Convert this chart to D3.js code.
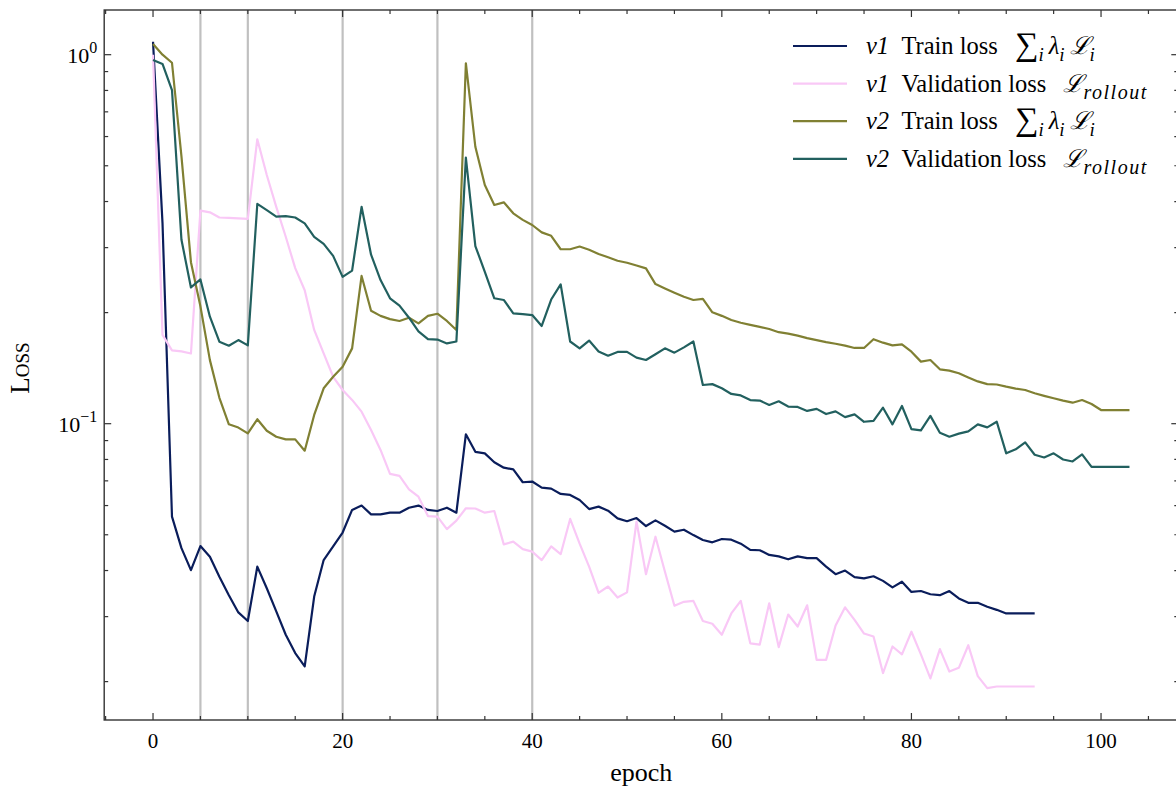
<!DOCTYPE html>
<html>
<head>
<meta charset="utf-8">
<script src="https://cdn.jsdelivr.net/npm/d3@7"></script>
<style>
  html, body { margin: 0; padding: 0; background: #fff; }
  svg { display: block; }
  text { font-family: "Liberation Serif", "DejaVu Serif", serif; fill: #000; }
</style>
</head>
<body>
<svg id="chart" width="1176" height="786"></svg>
<script>
// ---------------- data ----------------
const v1Train = [1.084, 0.35, 0.056, 0.046, 0.0401, 0.0466, 0.0436, 0.0385, 0.0343, 0.0308,
  0.0292, 0.0410, 0.0358, 0.0310, 0.0268, 0.0239, 0.0220, 0.0340, 0.0427, 0.0465,
  0.0507, 0.0584, 0.0600, 0.0568, 0.0568, 0.0574, 0.0574, 0.0592, 0.0600, 0.0584,
  0.0580, 0.0592, 0.0574, 0.0936, 0.0839, 0.0831, 0.0786, 0.0760, 0.0752, 0.0694,
  0.0697, 0.0671, 0.0667, 0.0645, 0.0641, 0.0621, 0.0587, 0.0596, 0.0581, 0.0554,
  0.0544, 0.0555, 0.0528, 0.0547, 0.0529, 0.0510, 0.0516, 0.0499, 0.0484, 0.0477,
  0.0487, 0.0485, 0.0473, 0.0455, 0.0454, 0.0441, 0.0437, 0.0429, 0.0437, 0.0432,
  0.0432, 0.0410, 0.0391, 0.0400, 0.0384, 0.0381, 0.0386, 0.0375, 0.0360, 0.0373,
  0.0350, 0.0352, 0.0345, 0.0343, 0.0352, 0.0336, 0.0327, 0.0327, 0.0319, 0.0313,
  0.0306, 0.0306, 0.0306, 0.0306];

const v1Val = [1.0, 0.174, 0.158, 0.157, 0.155, 0.378, 0.374, 0.362, 0.361, 0.360,
  0.359, 0.590, 0.472, 0.387, 0.321, 0.264, 0.230, 0.1795, 0.155, 0.134,
  0.1234, 0.116, 0.1078, 0.0961, 0.0849, 0.0731, 0.0722, 0.0664, 0.0634, 0.0562,
  0.0560, 0.0518, 0.0546, 0.0590, 0.0589, 0.0574, 0.0580, 0.0471, 0.0479, 0.0457,
  0.0450, 0.0427, 0.0465, 0.0443, 0.0552, 0.0473, 0.0410, 0.0348, 0.0362, 0.0338,
  0.0349, 0.0543, 0.0391, 0.0494, 0.0397, 0.0321, 0.0329, 0.0331, 0.0292, 0.0287,
  0.0268, 0.0306, 0.0331, 0.0254, 0.0252, 0.0326, 0.0248, 0.0304, 0.0282, 0.0322,
  0.0229, 0.0229, 0.0284, 0.0318, 0.0294, 0.0270, 0.0265, 0.0211, 0.0249, 0.0237,
  0.0273, 0.0237, 0.0204, 0.0245, 0.0213, 0.0218, 0.0251, 0.0207, 0.0192, 0.0194,
  0.0194, 0.0194, 0.0194, 0.0194];

const v2Train = [1.069, 1.0, 0.951, 0.53, 0.274, 0.208, 0.1487, 0.1175, 0.0996, 0.0976,
  0.0941, 0.1028, 0.0957, 0.0922, 0.0907, 0.0907, 0.0845, 0.1056, 0.1247, 0.134,
  0.1427, 0.160, 0.2514, 0.2024, 0.196, 0.192, 0.1898, 0.1937, 0.187, 0.196,
  0.1986, 0.1898, 0.1795, 0.948, 0.563, 0.4434, 0.3915, 0.398, 0.3717, 0.3567,
  0.3455, 0.330, 0.323, 0.297, 0.297, 0.302, 0.296, 0.2884, 0.2825, 0.2765,
  0.2730, 0.2683, 0.2636, 0.239, 0.2325, 0.2265, 0.2209, 0.2164, 0.218, 0.2004,
  0.196, 0.191, 0.1877, 0.1853, 0.183, 0.1805, 0.177, 0.1755, 0.1732, 0.1706,
  0.1684, 0.1664, 0.1647, 0.1627, 0.1604, 0.1604, 0.1694, 0.1658, 0.163, 0.164,
  0.1567, 0.1473, 0.1488, 0.1404, 0.1393, 0.137, 0.1335, 0.1302, 0.128, 0.1277,
  0.126, 0.1245, 0.1234, 0.1209, 0.119, 0.1172, 0.1155, 0.114, 0.1159, 0.1131,
  0.1089, 0.1089, 0.1089, 0.1089];

const v2Val = [0.967, 0.944, 0.802, 0.315, 0.234, 0.246, 0.195, 0.1668, 0.1627, 0.1685,
  0.163, 0.394, 0.379, 0.364, 0.365, 0.362, 0.349, 0.321, 0.307, 0.285,
  0.250, 0.260, 0.387, 0.287, 0.245, 0.2187, 0.209, 0.1937, 0.178, 0.1696,
  0.169, 0.165, 0.167, 0.526, 0.303, 0.258, 0.2187, 0.2164, 0.199, 0.198,
  0.197, 0.184, 0.217, 0.2385, 0.167, 0.160, 0.168, 0.157, 0.1528, 0.1565,
  0.1565, 0.151, 0.1488, 0.1542, 0.160, 0.1558, 0.161, 0.167, 0.1273, 0.128,
  0.1247, 0.1204, 0.1193, 0.1159, 0.1155, 0.1124, 0.1150, 0.1113, 0.111, 0.1083,
  0.1097, 0.1062, 0.108, 0.1042, 0.106, 0.1012, 0.1018, 0.1105, 0.0996, 0.1117,
  0.0967, 0.0959, 0.105, 0.0945, 0.0922, 0.0940, 0.0953, 0.0996, 0.0977, 0.1012,
  0.0831, 0.0852, 0.089, 0.0824, 0.081, 0.0831, 0.080, 0.0790, 0.0826, 0.0764,
  0.0764, 0.0764, 0.0764, 0.0764];

const stageEpochs = [5, 10, 20, 30, 40];
const xTickValues = [0, 20, 40, 60, 80, 100];
const yMajorTicks = [1, 0.1];
const yTickExponents = ["0", "\u22121"];
const seriesVersions = ["v1", "v1", "v2", "v2"];
const seriesNames = ["Train loss", "Validation loss", "Train loss", "Validation loss"];
const seriesKinds = ["train", "val", "train", "val"];
const seriesColors = ["#0a1d5b", "#f9c8f6", "#808033", "#22605f"];
const xDomain = [-5.15, 108.15];
const yDomain = [0.01574, 1.3216];

// ---------------- layout ----------------
const svg = d3.select("#chart");
const plot = { left: 104.2, right: 1178.3, top: 10, bottom: 720 };
const x = d3.scaleLinear().domain(xDomain).range([plot.left, plot.right]);
const y = d3.scaleLog().domain(yDomain).range([plot.bottom, plot.top]);

const clipId = "plotclip";
svg.append("clipPath").attr("id", clipId).append("rect")
  .attr("x", plot.left).attr("y", plot.top)
  .attr("width", plot.right - plot.left).attr("height", plot.bottom - plot.top);

const g = svg.append("g").attr("clip-path", `url(#${clipId})`);

// stage lines
g.selectAll("line.stage").data(stageEpochs).join("line")
  .attr("class", "stage")
  .attr("x1", d => x(d)).attr("x2", d => x(d))
  .attr("y1", plot.top).attr("y2", plot.bottom)
  .attr("stroke", "#c0c0c0").attr("stroke-width", 2.2);

const seriesData = [v1Train, v1Val, v2Train, v2Val];
const line = d3.line().x(d => x(d[0])).y(d => y(d[1]));
seriesData.forEach((vals, k) => {
  g.append("path")
    .datum(vals.map((v, i) => [i, v]))
    .attr("fill", "none")
    .attr("stroke", seriesColors[k])
    .attr("stroke-width", 2.2)
    .attr("stroke-linejoin", "round")
    .attr("d", line);
});

// ---------------- axes ----------------
const spineColor = "#333";
const axisG = svg.append("g");
axisG.append("rect")
  .attr("x", plot.left).attr("y", plot.top)
  .attr("width", plot.right - plot.left).attr("height", plot.bottom - plot.top)
  .attr("fill", "none").attr("stroke", spineColor).attr("stroke-width", 1.4);

const majLen = 7, minLen = 4;
const xMinor = d3.range(-5, 109, 5).filter(v => v >= xDomain[0] && v <= xDomain[1] && !xTickValues.includes(v));
function xTicks(vals, len) {
  vals.forEach(v => {
    axisG.append("line").attr("x1", x(v)).attr("x2", x(v))
      .attr("y1", plot.bottom).attr("y2", plot.bottom - len)
      .attr("stroke", spineColor).attr("stroke-width", 1.2);
    axisG.append("line").attr("x1", x(v)).attr("x2", x(v))
      .attr("y1", plot.top).attr("y2", plot.top + len)
      .attr("stroke", spineColor).attr("stroke-width", 1.2);
  });
}
xTicks(xTickValues, majLen);
xTicks(xMinor, minLen);

const yMinor = [];
[0.01, 0.1, 1].forEach(dec => { for (let m = 2; m <= 9; m++) { const v = dec * m; if (v > yDomain[0] && v < yDomain[1]) yMinor.push(v); } });
function yTicks(vals, len) {
  vals.forEach(v => {
    axisG.append("line").attr("x1", plot.left).attr("x2", plot.left + len)
      .attr("y1", y(v)).attr("y2", y(v))
      .attr("stroke", spineColor).attr("stroke-width", 1.2);
    axisG.append("line").attr("x1", plot.right).attr("x2", plot.right - len)
      .attr("y1", y(v)).attr("y2", y(v))
      .attr("stroke", spineColor).attr("stroke-width", 1.2);
  });
}
yTicks(yMajorTicks, majLen);
yTicks(yMinor, minLen);

// x tick labels
axisG.selectAll("text.xt").data(xTickValues).join("text")
  .attr("class", "xt")
  .attr("x", d => x(d)).attr("y", plot.bottom + 28)
  .attr("text-anchor", "middle")
  .attr("font-size", 21)
  .text(d => d);

// y tick labels 10^n
yMajorTicks.forEach((v, i) => {
  const t = axisG.append("text")
    .attr("x", plot.left - 7).attr("y", y(v) + 8)
    .attr("text-anchor", "end")
    .attr("font-size", 22);
  t.append("tspan").text("10");
  t.append("tspan").attr("dy", -10).attr("font-size", 16).text(yTickExponents[i]);
});

// axis labels
svg.append("text")
  .attr("x", (plot.left + plot.right) / 2).attr("y", 781)
  .attr("text-anchor", "middle")
  .attr("font-size", 26)
  .text("epoch");

svg.append("text")
  .attr("transform", `translate(29, ${(plot.top + plot.bottom) / 2 + 3}) rotate(-90)`)
  .attr("text-anchor", "middle")
  .attr("font-size", 27)
  .style("font-variant", "small-caps")
  .text("Loss");

// ---------------- legend ----------------
const legend = svg.append("g");
const legX = 793, legY0 = 46, legDy = 37.6;
seriesNames.forEach((name, k) => {
  const yy = legY0 + k * legDy;
  legend.append("line")
    .attr("x1", legX).attr("x2", legX + 54)
    .attr("y1", yy).attr("y2", yy)
    .attr("stroke", seriesColors[k]).attr("stroke-width", 2.2);
  const t = legend.append("text")
    .attr("x", 866).attr("y", yy + 8)
    .attr("font-size", 24.5);
  t.append("tspan").attr("font-style", "italic").text(seriesVersions[k]);
  t.append("tspan").text("\u2002" + name + "\u2002\u2009");
  if (seriesKinds[k] === "train") {
    t.append("tspan").attr("font-size", 33).attr("dy", 1).text("\u2211");
    t.append("tspan").attr("font-size", 19).attr("font-style", "italic").attr("dy", 6).text("i");
    t.append("tspan").attr("dy", -7).attr("font-style", "italic").text("\u2009\u03bb");
    t.append("tspan").attr("font-size", 19).attr("font-style", "italic").attr("dy", 7).text("i");
    t.append("tspan").attr("dy", -7).attr("font-style", "italic").text("\u2009\u2112");
    t.append("tspan").attr("font-size", 19).attr("font-style", "italic").attr("dy", 7).text("i");
  } else {
    t.append("tspan").attr("font-style", "italic").text("\u2112");
    t.append("tspan").attr("font-size", 20).attr("font-style", "italic")
      .attr("letter-spacing", 1.5).attr("dy", 7).text("rollout");
  }
});
</script>
</body>
</html>
